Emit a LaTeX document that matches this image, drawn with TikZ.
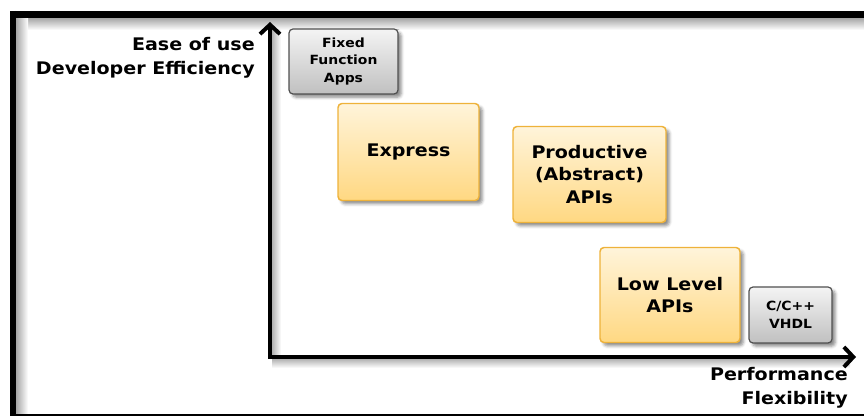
\documentclass[tikz,border=0pt]{standalone}
\usepackage{fontspec}
\setmainfont{DejaVu Sans}[FakeStretch=1.1]
\usetikzlibrary{arrows.meta,shadows.blur}

\definecolor{ybtop}{RGB}{255,244,218}
\definecolor{ybbot}{RGB}{255,216,130}
\definecolor{ybedge}{RGB}{238,178,58}
\definecolor{gbtop}{RGB}{244,244,244}
\definecolor{gbbot}{RGB}{192,192,192}
\definecolor{gbedge}{RGB}{80,80,80}

\begin{document}
\begin{tikzpicture}[x=0.75pt,y=0.75pt,yscale=-1,xscale=1,
  yellowbox/.style={draw=ybedge,line width=1.1pt,rounded corners=3pt,top color=ybtop,bottom color=ybbot,
    blur shadow={shadow xshift=2.5pt,shadow yshift=-2.5pt,shadow opacity=45},align=center,font=\bfseries},
  greybox/.style={draw=gbedge,line width=0.9pt,rounded corners=3pt,top color=gbtop,bottom color=gbbot,
    blur shadow={shadow xshift=2.5pt,shadow yshift=-2.5pt,shadow opacity=45},align=center,font=\bfseries},
  axis/.style={line width=3pt,{Straight Barb[length=7pt,width=15pt]}-{Straight Barb[length=7pt,width=15pt]}},
  axislabel/.style={inner sep=0.75pt,align=right,font=\fontsize{13}{18}\selectfont\bfseries}]
\useasboundingbox (0,0) rectangle (864,416);

%Shape: Frame shadows
\shade [top color=black!35,bottom color=white] (16,18) rectangle (864,30);
\shade [left color=black!35,right color=white] (16,18) rectangle (28,414);
%Shape: Frame
\draw [line width=5.25pt] (10,14.5) -- (864,14.5);
\draw [line width=4.5pt] (13,11) -- (13,416);
\draw [line width=1.5pt] (10,415) -- (864,415);

%Shape: Axes
\coordinate (origin) at (270,357);
\coordinate (ytip) at (270,22);
\coordinate (xtip) at (856,357);
\shade [left color=black!30,right color=white] (272,30) rectangle (281,359);
\shade [top color=black!30,bottom color=white] (272,359) rectangle (850,368);
\draw [axis] (ytip) -- (origin) -- (xtip);

% Text Node
\node (yname) [axislabel,anchor=east] at (256,58) {Ease of use\\Developer Efficiency};
% Text Node
\node (xname) [axislabel,anchor=east] at (849,387.5) {Performance\\Flexibility};

%Shape: Boxes
\node (fixed) [greybox,minimum width=81.75pt,minimum height=48.75pt,font=\fontsize{9.5}{13}\selectfont\bfseries] at (343.5,61.5) {Fixed\\Function\\Apps};
\node (express) [yellowbox,minimum width=105.75pt,minimum height=72.75pt,font=\fontsize{13}{17}\selectfont\bfseries] at (408.5,152) {Express};
\node (productive) [yellowbox,minimum width=114.75pt,minimum height=72pt,font=\fontsize{13}{17}\selectfont\bfseries] at (589.5,174.5) {Productive\\(Abstract)\\APIs};
\node (lowlevel) [yellowbox,minimum width=105pt,minimum height=71.25pt,font=\fontsize{13}{17}\selectfont\bfseries] at (670,295) {Low Level\\APIs};
\node (cpp) [greybox,minimum width=62.25pt,minimum height=42pt,font=\fontsize{9.5}{13.5}\selectfont\bfseries] at (790.5,315) {C/C++\\VHDL};

\end{tikzpicture}
\end{document}
